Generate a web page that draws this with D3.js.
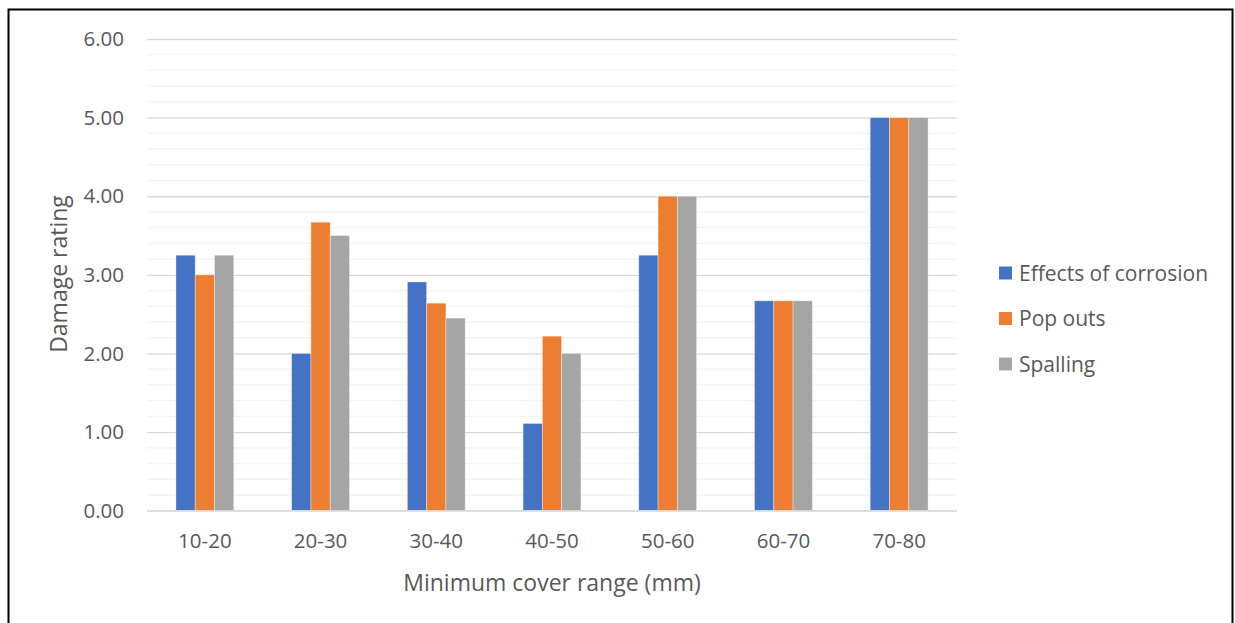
<!DOCTYPE html>
<html>
<head>
<meta charset="utf-8">
<script src="https://cdn.jsdelivr.net/npm/d3@7"></script>
<style>
  html, body { margin: 0; padding: 0; background: #fff; }
  svg { display: block; }
  text { font-family: "Open Sans", "Noto Sans", sans-serif; fill: #595959; }
</style>
</head>
<body>
<svg id="chart" width="1235" height="623"></svg>
<script>
// Damage rating by minimum concrete cover range
const categories = ["10-20", "20-30", "30-40", "40-50", "50-60", "60-70", "70-80"];
const seriesNames = ["Effects of corrosion", "Pop outs", "Spalling"];
const corrosion = [3.25, 2.00, 2.91, 1.11, 3.25, 2.67, 5.00];
const popOuts   = [3.00, 3.67, 2.64, 2.22, 4.00, 2.67, 5.00];
const spalling  = [3.25, 3.50, 2.45, 2.00, 4.00, 2.67, 5.00];
const yTicks = [0, 1, 2, 3, 4, 5, 6];
const colors = ["#4472C4", "#ED7D31", "#A5A5A5"];

const series = [corrosion, popOuts, spalling];
const svg = d3.select("#chart");

// Outer frame (open at the bottom edge of the page)
svg.append("rect")
  .attr("x", 8.5).attr("y", 9.5)
  .attr("width", 1224).attr("height", 640)
  .attr("fill", "none").attr("stroke", "#000").attr("stroke-width", 2);

const plot = { left: 147, right: 957, top: 39, bottom: 510.7 };

const x = d3.scaleBand().domain(categories).range([plot.left, plot.right]).paddingInner(0).paddingOuter(0);
const y = d3.scaleLinear().domain([0, 6]).range([plot.bottom, plot.top]);

// Minor gridlines every 0.2
const minor = d3.range(0, 6.0001, 0.2).filter(v => Math.abs(v - Math.round(v)) > 1e-6);
svg.append("g").selectAll("line").data(minor).join("line")
  .attr("x1", plot.left).attr("x2", plot.right)
  .attr("y1", d => y(d)).attr("y2", d => y(d))
  .attr("stroke", "#f2f2f2").attr("stroke-width", 1.3);

// Major gridlines + tick labels
const yAxis = d3.axisLeft(y).tickValues(yTicks).tickFormat(d3.format(".2f"))
  .tickSize(-(plot.right - plot.left)).tickPadding(23);
const gy = svg.append("g").attr("transform", `translate(${plot.left},0)`).call(yAxis);
gy.select(".domain").remove();
gy.selectAll(".tick line").attr("stroke", "#d9d9d9").attr("stroke-width", 1.3);
gy.selectAll(".tick text").attr("font-size", 20.5).attr("fill", "#595959").style("font-family", "Open Sans");

// Bars
const bw = x.bandwidth() / 6;
const groups = svg.append("g").selectAll("g").data(categories).join("g")
  .attr("transform", d => `translate(${x(d) + x.bandwidth() / 2 - 1.5 * bw},0)`);
groups.selectAll("rect")
  .data((c, i) => series.map((s, k) => ({ k, v: s[i] })))
  .join("rect")
  .attr("x", d => d.k * bw)
  .attr("width", bw)
  .attr("y", d => y(d.v))
  .attr("height", d => y(0) - y(d.v))
  .attr("fill", d => colors[d.k])
  .attr("stroke", "#fff").attr("stroke-opacity", 0.45).attr("stroke-width", 0.8);

// Baseline
svg.append("line")
  .attr("x1", plot.left).attr("x2", plot.right)
  .attr("y1", y(0)).attr("y2", y(0))
  .attr("stroke", "#d9d9d9").attr("stroke-width", 1.3);

// Category labels
const xAxis = d3.axisBottom(x).tickSize(0).tickPadding(23);
const gx = svg.append("g").attr("transform", `translate(0,${plot.bottom})`).call(xAxis);
gx.select(".domain").remove();
gx.selectAll(".tick text").attr("font-size", 20.5).attr("fill", "#595959").style("font-family", "Open Sans");

// Axis titles
svg.append("text")
  .attr("x", (plot.left + plot.right) / 2).attr("y", 591)
  .attr("text-anchor", "middle").attr("font-size", 23)
  .text("Minimum cover range (mm)");
svg.append("text")
  .attr("transform", `translate(67,274) rotate(-90)`)
  .attr("text-anchor", "middle").attr("font-size", 23)
  .text("Damage rating");

// Legend
const legend = svg.append("g").attr("transform", "translate(999,273)");
const items = legend.selectAll("g").data(seriesNames).join("g")
  .attr("transform", (d, i) => `translate(0,${i * 45.5})`);
items.append("rect").attr("x", 0).attr("y", -6.5).attr("width", 13).attr("height", 13)
  .attr("fill", (d, i) => colors[i]);
items.append("text").attr("x", 20).attr("y", 0).attr("dy", "0.36em")
  .attr("font-size", 21).text(d => d);
</script>
</body>
</html>
